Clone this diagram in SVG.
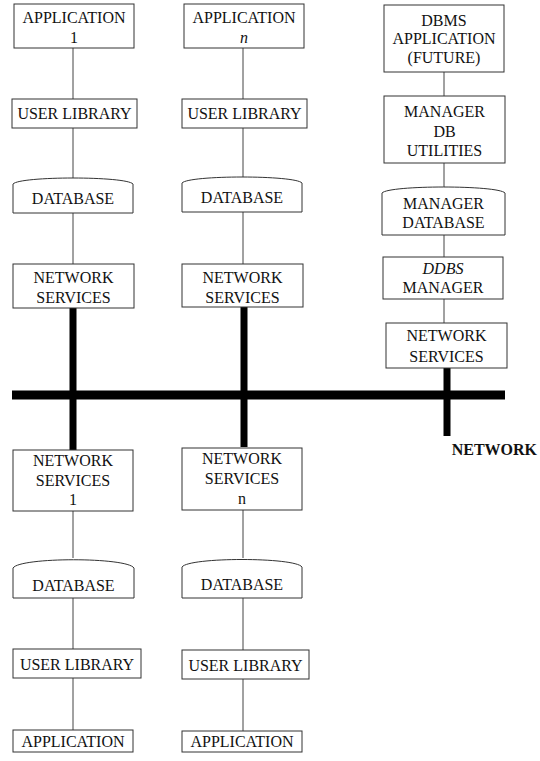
<svg xmlns="http://www.w3.org/2000/svg" width="540" height="761" viewBox="0 0 540 761">
<style>
.b{fill:#fff;stroke:#333;stroke-width:1}
.t{font-family:'Liberation Serif','DejaVu Serif',serif;font-size:16px;fill:#111;text-anchor:middle}
.c{stroke:#444;stroke-width:1;fill:none}
.k{stroke:#000;fill:none}
</style>
<rect width="540" height="761" fill="#fff"/>
<g id="connectors">
<line class="c" x1="73" y1="48" x2="73" y2="99"/>
<line class="c" x1="73" y1="128" x2="73" y2="178"/>
<line class="c" x1="73" y1="213" x2="73" y2="264"/>
<line class="c" x1="243" y1="48" x2="243" y2="99"/>
<line class="c" x1="243" y1="128" x2="243" y2="177"/>
<line class="c" x1="243" y1="212" x2="243" y2="264"/>
<line class="c" x1="444" y1="72" x2="444" y2="96"/>
<line class="c" x1="444" y1="163" x2="444" y2="187"/>
<line class="c" x1="444" y1="235" x2="444" y2="257"/>
<line class="c" x1="444" y1="299" x2="444" y2="323"/>
<line class="c" x1="73" y1="511" x2="73" y2="558"/>
<line class="c" x1="73" y1="598" x2="73" y2="649"/>
<line class="c" x1="73" y1="678" x2="73" y2="730"/>
<line class="c" x1="243" y1="510" x2="243" y2="558"/>
<line class="c" x1="243" y1="598" x2="243" y2="650"/>
<line class="c" x1="243" y1="679" x2="243" y2="731"/>
<line class="k" x1="12" y1="395" x2="505" y2="395" stroke-width="9"/>
<line class="k" x1="73" y1="308" x2="73" y2="451" stroke-width="7"/>
<line class="k" x1="244" y1="307" x2="244" y2="447" stroke-width="7"/>
<line class="k" x1="447" y1="368" x2="447" y2="436" stroke-width="7"/>
</g>
<g id="app1"><rect class="b" x="14" y="4" width="120" height="44"/><text class="t" x="74" y="23">APPLICATION</text><text class="t" x="74" y="43">1</text></g>
<g id="ul1"><rect class="b" x="12" y="99" width="125" height="29"/><text class="t" x="74.5" y="119">USER LIBRARY</text></g>
<g id="db1"><path class="b" d="M13,184 C20,176 126,176 133,184 L133,213 L13,213 Z"/><text class="t" x="73" y="204">DATABASE</text></g>
<g id="ns1"><rect class="b" x="13" y="264" width="121" height="44"/><text class="t" x="73.5" y="283">NETWORK</text><text class="t" x="73.5" y="303">SERVICES</text></g>
<g id="appn"><rect class="b" x="184" y="4" width="120" height="44"/><text class="t" x="244" y="23">APPLICATION</text><text class="t" x="244" y="43" font-style="italic">n</text></g>
<g id="uln"><rect class="b" x="182" y="99" width="125" height="29"/><text class="t" x="244.5" y="119">USER LIBRARY</text></g>
<g id="dbn"><path class="b" d="M182,183 C189,175 295,175 302,183 L302,212 L182,212 Z"/><text class="t" x="242" y="203">DATABASE</text></g>
<g id="nsn"><rect class="b" x="182" y="264" width="121" height="43"/><text class="t" x="242.5" y="283">NETWORK</text><text class="t" x="242.5" y="303">SERVICES</text></g>
<g id="dbmsapp"><rect class="b" x="384" y="5" width="120" height="67"/><text class="t" x="444" y="25.5">DBMS</text><text class="t" x="444" y="44">APPLICATION</text><text class="t" x="444" y="62.5">(FUTURE)</text></g>
<g id="mgrutil"><rect class="b" x="384" y="96" width="121" height="67"/><text class="t" x="444.5" y="117">MANAGER</text><text class="t" x="444.5" y="136.5">DB</text><text class="t" x="444.5" y="156">UTILITIES</text></g>
<g id="mgrdb"><path class="b" d="M382,193 C389,185 498,185 505,193 L505,235 L382,235 Z"/><text class="t" x="443.5" y="209">MANAGER</text><text class="t" x="443.5" y="228">DATABASE</text></g>
<g id="ddbs"><rect class="b" x="383" y="257" width="120" height="42"/><text class="t" x="443" y="274" font-style="italic">DDBS</text><text class="t" x="443" y="293">MANAGER</text></g>
<g id="nsr"><rect class="b" x="386" y="323" width="121" height="45"/><text class="t" x="446.5" y="341">NETWORK</text><text class="t" x="446.5" y="362">SERVICES</text></g>
<g id="netlabel"><text class="t" x="537" y="455" font-weight="bold" font-size="14" text-anchor="end" style="text-anchor:end">NETWORK</text></g>
<g id="nsb1"><rect class="b" x="13" y="450" width="120" height="61"/><text class="t" x="73" y="466">NETWORK</text><text class="t" x="73" y="485.5">SERVICES</text><text class="t" x="73" y="505">1</text></g>
<g id="dbb1"><path class="b" d="M13,568 C20,557 127,557 134,568 L134,598 L13,598 Z"/><text class="t" x="73.5" y="591">DATABASE</text></g>
<g id="ulb1"><rect class="b" x="13" y="649" width="128" height="29"/><text class="t" x="77" y="670">USER LIBRARY</text></g>
<g id="appb1"><rect class="b" x="13" y="730" width="120" height="22"/><text class="t" x="73" y="747">APPLICATION</text></g>
<g id="nsbn"><rect class="b" x="182" y="448" width="120" height="62"/><text class="t" x="242" y="464">NETWORK</text><text class="t" x="242" y="484">SERVICES</text><text class="t" x="242" y="503.5">n</text></g>
<g id="dbbn"><path class="b" d="M182,567 C189,557 295,557 302,567 L302,598 L182,598 Z"/><text class="t" x="242" y="590">DATABASE</text></g>
<g id="ulbn"><rect class="b" x="182" y="650" width="127" height="29"/><text class="t" x="245.5" y="671">USER LIBRARY</text></g>
<g id="appbn"><rect class="b" x="182" y="731" width="120" height="21"/><text class="t" x="242" y="747">APPLICATION</text></g>
</svg>
